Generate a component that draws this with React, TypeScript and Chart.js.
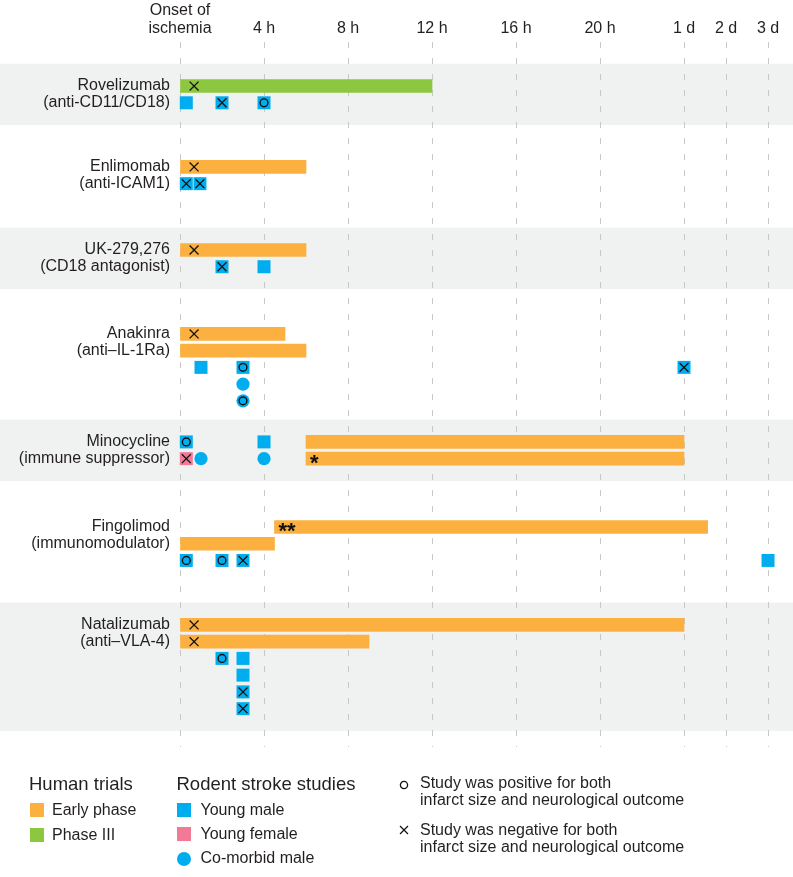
import React, { useEffect, useRef } from "react";
import { Chart, registerables } from "chart.js";

Chart.register(...registerables);

// ---------------- Data ----------------
const drugNames = ["Rovelizumab", "Enlimomab", "UK-279,276", "Anakinra", "Minocycline", "Fingolimod", "Natalizumab"];
const drugTargets = ["(anti-CD11/CD18)", "(anti-ICAM1)", "(CD18 antagonist)", "(anti–IL-1Ra)", "(immune suppressor)", "(immunomodulator)", "(anti–VLA-4)"];

// time axis ticks (hours after onset)
const timeTickHours = [0, 4, 8, 12, 16, 20, 24, 48, 72];
const timeTickLabels: (string | string[])[] = [["Onset of", "ischemia"], "4 h", "8 h", "12 h", "16 h", "20 h", "1 d", "2 d", "3 d"];

// Human trials: time window of treatment (hours)
const trialDrug = [0, 1, 2, 3, 3, 4, 4, 5, 5, 6, 6];
const trialRow = [0, 0, 0, 0, 1, 0, 1, 0, 1, 0, 1];
const trialStartH = [0, 0, 0, 0, 0, 6, 6, 4.5, 0, 0, 0];
const trialEndH = [12, 6, 6, 5, 6, 24, 24, 37.5, 4.5, 24, 9];
const trialPhase = ["III", "early", "early", "early", "early", "early", "early", "early", "early", "early", "early"];
const trialOutcome = ["neg", "neg", "neg", "neg", "", "", "", "", "", "neg", "neg"];
const trialNote = ["", "", "", "", "", "", "*", "**", "", "", ""];

// Rodent stroke studies: time of treatment (hours)
const rodentDrug = [0, 0, 0, 1, 1, 2, 2, 3, 3, 3, 3, 3, 4, 4, 4, 4, 4, 5, 5, 5, 5, 6, 6, 6, 6, 6];
const rodentRow = [1, 1, 1, 1, 1, 1, 1, 2, 2, 3, 4, 2, 0, 0, 1, 1, 1, 2, 2, 2, 2, 2, 2, 3, 4, 5];
const rodentTimeH = [0.3, 2, 4, 0.3, 0.95, 2, 4, 1, 3, 3, 3, 24, 0.3, 4, 0.3, 1, 4, 0.3, 2, 3, 72, 2, 3, 3, 3, 3];
const rodentModel = ["YM", "YM", "YM", "YM", "YM", "YM", "YM", "YM", "YM", "CM", "CM", "YM", "YM", "YM", "YF", "CM", "CM", "YM", "YM", "YM", "YM", "YM", "YM", "YM", "YM", "YM"];
const rodentOutcome = ["", "neg", "pos", "neg", "neg", "neg", "", "", "pos", "", "pos", "neg", "pos", "", "neg", "", "", "pos", "pos", "neg", "", "pos", "", "", "neg", "neg"];

// ---------------- Layout / style ----------------
const GROUP_TOP = [2.63, 7.46, 12.42, 17.43, 23.88, 28.96, 34.81];
const GROUP_ROWS = [2, 2, 2, 5, 2, 3, 6];
const SHADED = [true, false, true, false, true, false, true];
const BAND_PAD = 1.33;
const Y_MAX = 42.1;
const X_MAX = 29.19;
const TRIAL_SYMBOL_OFFSET = 0.67;

const FONT = '"Liberation Sans", Arial, Helvetica, sans-serif';
const TEXT = "#231f20";
const ORANGE = "#fbb040";
const GREEN = "#8dc63f";
const BLUE = "#00aeef";
const PINK = "#f37a97";
const BAND = "#f0f1f1";

const toAxis = (h: number) => (h <= 24 ? h : 24 + (h - 24) / 12);

export default function App() {
  const ref = useRef<HTMLCanvasElement>(null);

  useEffect(() => {
    const canvas = ref.current;
    if (!canvas) return;

    const yTickValues: number[] = [];
    const yTickLabels: string[] = [];
    drugNames.forEach((n, d) => {
      yTickValues.push(GROUP_TOP[d], GROUP_TOP[d] + 1);
      yTickLabels.push(n, drugTargets[d]);
    });

    const barData = trialDrug.map((d, i) => ({
      x: [toAxis(trialStartH[i]), toAxis(trialEndH[i])],
      y: GROUP_TOP[d] + trialRow[i],
    }));
    const barColors = trialPhase.map((p) => (p === "III" ? GREEN : ORANGE));

    const rodentPt = (i: number) => ({ x: toAxis(rodentTimeH[i]), y: GROUP_TOP[rodentDrug[i]] + rodentRow[i] });
    const idx = (arr: string[], v: string) => arr.map((m, i) => (m === v ? i : -1)).filter((i) => i >= 0);

    const ym = idx(rodentModel, "YM").map(rodentPt);
    const yf = idx(rodentModel, "YF").map(rodentPt);
    const cm = idx(rodentModel, "CM").map(rodentPt);
    const pos = idx(rodentOutcome, "pos").map(rodentPt);
    const neg = idx(rodentOutcome, "neg").map(rodentPt).concat(
      idx(trialOutcome, "neg").map((i) => ({
        x: toAxis(trialStartH[i]) + TRIAL_SYMBOL_OFFSET,
        y: GROUP_TOP[trialDrug[i]] + trialRow[i],
      }))
    );

    const bandsPlugin = {
      id: "bands",
      beforeDraw(chart: any) {
        const { ctx } = chart;
        const y = chart.scales.y;
        ctx.save();
        ctx.fillStyle = BAND;
        drugNames.forEach((_, d) => {
          if (!SHADED[d]) return;
          const t = y.getPixelForValue(GROUP_TOP[d] - BAND_PAD);
          const b = y.getPixelForValue(GROUP_TOP[d] + GROUP_ROWS[d] - 1 + BAND_PAD);
          ctx.fillRect(0, t, chart.width, b - t);
        });
        ctx.restore();
      },
    };

    const notesPlugin = {
      id: "notes",
      afterDatasetsDraw(chart: any) {
        const { ctx } = chart;
        const xs = chart.scales.x;
        const ys = chart.scales.y;
        ctx.save();
        ctx.fillStyle = "#111";
        ctx.font = `bold 22px ${FONT}`;
        ctx.textAlign = "left";
        ctx.textBaseline = "alphabetic";
        trialNote.forEach((n, i) => {
          if (!n) return;
          const x = xs.getPixelForValue(toAxis(trialStartH[i])) + 4;
          const y = ys.getPixelForValue(GROUP_TOP[trialDrug[i]] + trialRow[i]);
          ctx.fillText(n, x, y + 11);
        });
        ctx.restore();
      },
    };

    const chart = new Chart(canvas, {
      type: "scatter",
      data: {
        datasets: [
          {
            type: "scatter",
            label: "negative",
            data: neg,
            pointStyle: "crossRot",
            radius: 6.3,
            borderColor: "#111",
            borderWidth: 1.3,
            backgroundColor: "#111",
            order: 0,
            clip: false,
          } as any,
          {
            type: "scatter",
            label: "positive",
            data: pos,
            pointStyle: "circle",
            radius: 3.9,
            borderColor: "#111",
            borderWidth: 1.4,
            backgroundColor: "rgba(0,0,0,0)",
            order: 0,
            clip: false,
          } as any,
          {
            type: "scatter",
            label: "Young male",
            data: ym,
            pointStyle: "rect",
            radius: 9.19,
            borderWidth: 0,
            backgroundColor: BLUE,
            order: 1,
            clip: false,
          } as any,
          {
            type: "scatter",
            label: "Young female",
            data: yf,
            pointStyle: "rect",
            radius: 9.19,
            borderWidth: 0,
            backgroundColor: PINK,
            order: 1,
            clip: false,
          } as any,
          {
            type: "scatter",
            label: "Co-morbid male",
            data: cm,
            pointStyle: "circle",
            radius: 6.6,
            borderWidth: 0,
            backgroundColor: BLUE,
            order: 1,
            clip: false,
          } as any,
          {
            type: "bar",
            label: "Human trials",
            indexAxis: "y",
            data: barData,
            backgroundColor: barColors,
            borderWidth: 0,
            barThickness: 13,
            maxBarThickness: 13,
            grouped: false,
            order: 2,
            clip: false,
          } as any,
        ],
      },
      options: {
        animation: false,
        responsive: false,
        events: [],
        layout: { autoPadding: false, padding: { left: 0, right: 0, top: 0, bottom: 130 } },
        plugins: { legend: { display: false }, tooltip: { enabled: false } },
        scales: {
          x: {
            type: "linear",
            position: "top",
            min: 0,
            max: X_MAX,
            offset: false,
            afterBuildTicks: (s: any) => {
              s.ticks = timeTickHours.map((h) => ({ value: toAxis(h) }));
            },
            afterFit: (s: any) => {
              s.height = 42;
              s.paddingLeft = 0;
              s.paddingRight = 0;
            },
            ticks: {
              autoSkip: false,
              maxRotation: 0,
              padding: 5,
              color: TEXT,
              font: { family: FONT, size: 16, lineHeight: 1.08 },
              callback: (_v: any, i: number) => timeTickLabels[i] as any,
            },
            grid: { color: "#c8c8c8", lineWidth: 1, drawTicks: false, offset: false },
            border: { display: false, dash: [6, 10] },
          },
          y: {
            type: "linear",
            reverse: true,
            min: 0,
            max: Y_MAX,
            offset: false,
            afterBuildTicks: (s: any) => {
              s.ticks = yTickValues.map((v) => ({ value: v }));
            },
            afterFit: (s: any) => {
              s.width = 180;
              s.paddingTop = 0;
              s.paddingBottom = 0;
              s.paddingLeft = 0;
              s.paddingRight = 0;
            },
            ticks: {
              autoSkip: false,
              padding: 10,
              color: TEXT,
              font: { family: FONT, size: 16 },
              callback: (_v: any, i: number) => yTickLabels[i],
            },
            grid: { display: false, drawTicks: false },
            border: { display: false },
          },
        },
      } as any,
      plugins: [bandsPlugin, notesPlugin],
    });

    return () => chart.destroy();
  }, []);

  const abs = (left: number, top: number, extra: any = {}) => ({
    position: "absolute" as const,
    left,
    top,
    whiteSpace: "nowrap" as const,
    ...extra,
  });
  const title = { fontSize: 18.5, lineHeight: "20px", color: TEXT };
  const item = { fontSize: 16, lineHeight: "17px", color: TEXT };
  const sw = (color: string, round = false) => ({ width: 14, height: 14, background: color, borderRadius: round ? "50%" : 0 });

  return (
    <div style={{ position: "absolute", left: 0, top: 0, width: 793, height: 877, overflow: "hidden", fontFamily: FONT, background: "#fff" }}>
      <canvas ref={ref} width={793} height={877} style={{ position: "absolute", left: 0, top: 0, width: 793, height: 877 }} />

      <div style={abs(29, 774, title)}>Human trials</div>
      <div style={abs(30, 803, sw(ORANGE))} />
      <div style={abs(52, 801, item)}>Early phase</div>
      <div style={abs(30, 828, sw(GREEN))} />
      <div style={abs(52, 826, item)}>Phase III</div>

      <div style={abs(176.5, 774, title)}>Rodent stroke studies</div>
      <div style={abs(177, 803, sw(BLUE))} />
      <div style={abs(200.5, 801, item)}>Young male</div>
      <div style={abs(177, 827, sw(PINK))} />
      <div style={abs(200.5, 825, item)}>Young female</div>
      <div style={abs(177, 852, sw(BLUE, true))} />
      <div style={abs(200.5, 849, item)}>Co-morbid male</div>

      <svg style={abs(398, 779)} width={12} height={12}>
        <circle cx={6} cy={6} r={3.6} fill="none" stroke="#111" strokeWidth={1.3} />
      </svg>
      <div style={abs(420, 774, item)}>
        Study was positive for both
        <br />
        infarct size and neurological outcome
      </div>
      <svg style={abs(398, 824)} width={12} height={12}>
        <path d="M2,2 L10,10 M10,2 L2,10" stroke="#111" strokeWidth={1.2} />
      </svg>
      <div style={abs(420, 821, item)}>
        Study was negative for both
        <br />
        infarct size and neurological outcome
      </div>
    </div>
  );
}
